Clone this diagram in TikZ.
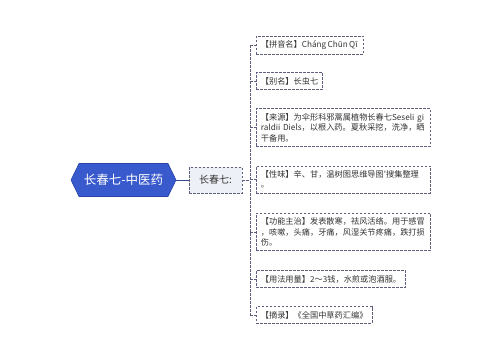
\documentclass[tikz,border=0pt]{standalone}
\usepackage{fontspec}
\setmainfont{Noto Sans CJK SC}
\usepackage{tikz}
\usetikzlibrary{shapes.symbols, positioning}
\definecolor{rootblue}{RGB}{56, 90, 204}
\definecolor{rootedge}{RGB}{40, 68, 170}
\definecolor{linkblue}{RGB}{52, 72, 140}
\definecolor{dashgray}{RGB}{92, 96, 124}
\definecolor{midfill}{RGB}{238, 240, 247}
\definecolor{inktext}{RGB}{51, 51, 51}

\begin{document}
\begin{tikzpicture}[x=1pt, y=-1pt,
    root/.style={signal, signal to=east and west, signal pointer angle=128,
        fill=rootblue, draw=rootedge, line width=0.6pt, text=white,
        minimum width=105pt, minimum height=33pt, inner sep=2pt,
        font=\fontsize{12.5}{14}\selectfont},
    midbox/.style={draw=dashgray, dash pattern=on 2.5pt off 1.5pt, line width=0.7pt,
        fill=midfill, text=inktext, minimum width=53pt, minimum height=26pt,
        inner sep=2pt, font=\fontsize{10}{12}\selectfont},
    leaf/.style={draw=dashgray, dash pattern=on 2.5pt off 1.5pt, line width=0.7pt,
        fill=white, text=inktext, anchor=west, align=left, inner xsep=4.5pt,
        inner ysep=4.5pt, font=\fontsize{8.2}{10.5}\selectfont},
    wide/.style={text width=165pt},
    link/.style={draw=dashgray, dash pattern=on 2.5pt off 1.5pt, line width=0.7pt}]
    \useasboundingbox (0,0) rectangle (500,360);

    % Root and middle topic
    \node[root] (root) at (123.5,180) {长春七-中医药};
    \node[midbox] (mid) at (215.5,180) {长春七:};
    \draw[linkblue, line width=1pt] (root.east) -- (mid.west);
    \coordinate (fork) at (250,180);
    \draw[link] (mid.east) -- (fork);

    % Leaves
    \node[leaf] (pinyin) at (256,45) {【拼音名】Cháng\,Chūn\,Qī\,};
    \node[leaf] (alias) at (256,81) {【别名】长虫七};
    \node[leaf, wide] (source) at (256,127.5) {【来源】为伞形科邪蒿属植物长春七Seseli gi\\raldii Diels，以根入药。夏秋采挖，洗净，晒\\干备用。};
    \node[leaf, wide] (nature) at (256,179.5) {【性味】辛、甘，温树图思维导图\textquotesingle 搜集整理\\。};
    \node[leaf, wide] (usage) at (256,232) {【功能主治】发表散寒，祛风活络。用于感冒\\，咳嗽，头痛，牙痛，风湿关节疼痛，跌打损\\伤。};
    \node[leaf] (dosage) at (256,279) {【用法用量】2～3钱，水煎或泡酒服。};
    \node[leaf] (excerpt) at (256,315) {【摘录】《全国中草药汇编》};

    % Trunk and branches
    \draw[link] (fork |- pinyin.west) -- (fork |- excerpt.west);
    \foreach \n in {pinyin, alias, source, nature, usage, dosage, excerpt}
        \draw[link] (fork |- \n.west) -- (\n.west);
\end{tikzpicture}
\end{document}
